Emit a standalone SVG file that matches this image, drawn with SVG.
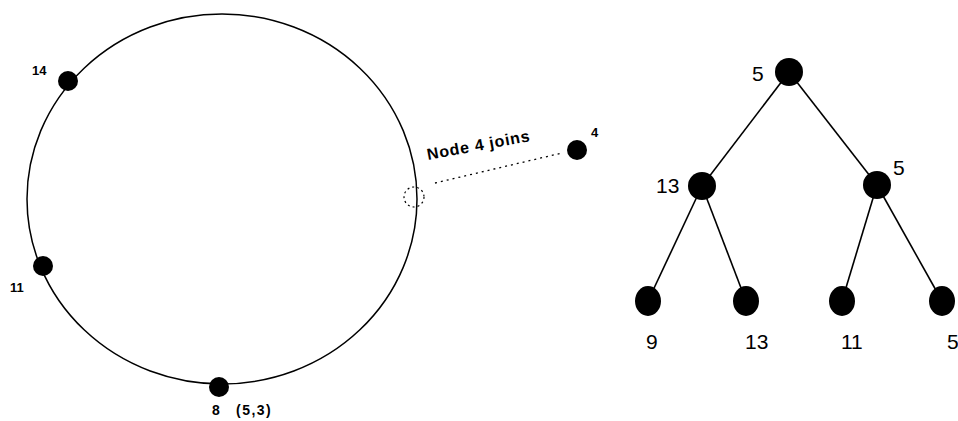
<svg xmlns="http://www.w3.org/2000/svg" width="958" height="421" viewBox="0 0 958 421">
<style>
.dot{fill:#000}
.e{stroke:#000;stroke-width:1.6;fill:none}
.sm{font-family:"Liberation Sans",Arial,sans-serif;font-size:13px;font-weight:bold;fill:#000}
.lg{font-family:"Liberation Sans",Arial,sans-serif;font-size:21px;fill:#000}
</style>
<rect width="958" height="421" fill="#fff"/>
<g id="ring">
<ellipse cx="222" cy="199" rx="195" ry="185" fill="none" stroke="#000" stroke-width="1.5"/>
</g>
<g id="connectors">
<line x1="435" y1="183" x2="562" y2="153" stroke="#000" stroke-width="1.3" stroke-dasharray="2,4"/>
<line class="e" x1="789" y1="72" x2="702" y2="186"/>
<line class="e" x1="789" y1="72" x2="877" y2="185"/>
<line class="e" x1="702" y1="186" x2="648" y2="301"/>
<line class="e" x1="702" y1="186" x2="746" y2="301"/>
<line class="e" x1="877" y1="185" x2="842" y2="301"/>
<line class="e" x1="877" y1="185" x2="942" y2="301"/>
</g>
<g id="n14"><circle class="dot" cx="68" cy="81" r="10"/><text class="sm" x="32" y="75">14</text></g>
<g id="n11"><circle class="dot" cx="43" cy="266" r="10"/><text class="sm" x="10" y="292">11</text></g>
<g id="n8"><circle class="dot" cx="219" cy="387" r="10"/><text class="sm" x="212" y="415" style="font-size:14px">8</text><text class="sm" x="236" y="415" style="font-size:14px;letter-spacing:1.5px">(5,3)</text></g>
<g id="join"><circle cx="414" cy="197" r="10" fill="none" stroke="#000" stroke-width="1.2" stroke-dasharray="2,3"/></g>
<g id="n4"><circle class="dot" cx="577" cy="150" r="10"/><text class="sm" x="591" y="137">4</text></g>
<g id="label-join"><text class="sm" x="428" y="160" transform="rotate(-10.5 428 160)" style="font-size:16px;letter-spacing:0.8px">Node 4 joins</text></g>
<g id="t-root"><circle class="dot" cx="789" cy="72" r="14"/><text class="lg" x="752" y="81">5</text></g>
<g id="t-l"><circle class="dot" cx="702" cy="186" r="14"/><text class="lg" x="656" y="193">13</text></g>
<g id="t-r"><circle class="dot" cx="877" cy="185" r="14"/><text class="lg" x="893" y="175">5</text></g>
<g id="t-ll"><ellipse class="dot" cx="648" cy="301" rx="13" ry="15"/><text class="lg" x="646" y="349">9</text></g>
<g id="t-lr"><ellipse class="dot" cx="746" cy="301" rx="13" ry="15"/><text class="lg" x="745" y="349">13</text></g>
<g id="t-rl"><ellipse class="dot" cx="842" cy="301" rx="13" ry="15"/><text class="lg" x="841" y="349">11</text></g>
<g id="t-rr"><ellipse class="dot" cx="942" cy="301" rx="13" ry="15"/><text class="lg" x="947" y="349">5</text></g>
</svg>
